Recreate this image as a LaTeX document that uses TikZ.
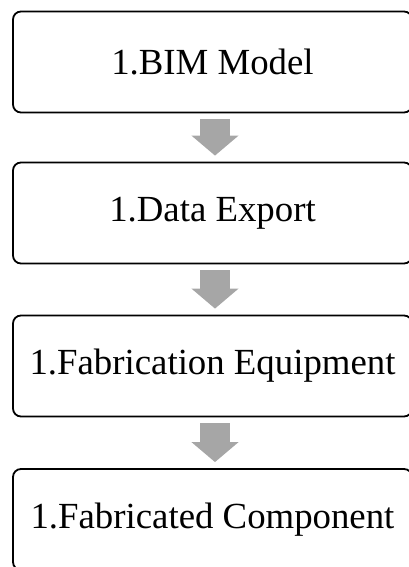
\documentclass[tikz,border=0pt]{standalone}
\usepackage{fontspec}
\setmainfont{Liberation Serif}
\usepackage{tikz}
\usetikzlibrary{arrows.meta}

\definecolor{arrgray}{HTML}{A6A6A6}

\tikzset{
    stepbox/.style={draw=black, line width=1.8pt, rounded corners=8pt,
        minimum width=399pt, minimum height=101pt, inner sep=0pt,
        font=\fontsize{36.8}{40}\selectfont},
    flowarrow/.style={draw=arrgray, line width=30pt,
        -{Triangle[length=20pt,width=46pt]}}
}

\begin{document}
\begin{tikzpicture}[x=1pt,y=-1pt]
    \useasboundingbox (0,0) rectangle (409,567);
    % boxes
    \node [stepbox] (bim) at (212.5,62) {1.BIM Model};
    \node [stepbox] (export) at (212.5,213) {1.Data Export};
    \node [stepbox] (equip) at (212.5,366) {1.Fabrication Equipment};
    \node [stepbox] (comp) at (212.5,519.5) {1.Fabricated Component};
    % arrows between boxes
    \coordinate (mid) at (215,0);
    \draw [flowarrow] ([yshift=-6pt]bim.south -| mid) -- ([yshift=6pt]export.north -| mid);
    \draw [flowarrow] ([yshift=-6pt]export.south -| mid) -- ([yshift=6pt]equip.north -| mid);
    \draw [flowarrow] ([yshift=-6pt]equip.south -| mid) -- ([yshift=6pt]comp.north -| mid);
\end{tikzpicture}
\end{document}
